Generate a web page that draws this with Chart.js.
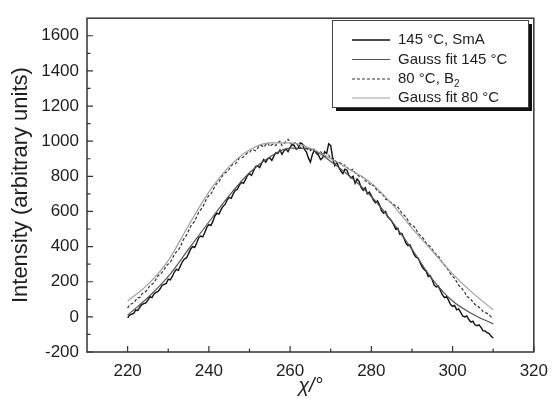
<!DOCTYPE html>
<html><head><meta charset="utf-8">
<script src="https://cdn.jsdelivr.net/npm/chart.js@4/dist/chart.umd.min.js"></script>
<style>html,body{margin:0;padding:0;background:#fff}</style>
</head><body>
<canvas id="c" width="557" height="401"></canvas>
<script>
// ---- data ----
const chi = [220,220.5,221,221.5,222,222.5,223,223.5,224,224.5,225,225.5,226,226.5,227,227.5,228,228.5,229,229.5,
  230,230.5,231,231.5,232,232.5,233,233.5,234,234.5,235,235.5,236,236.5,237,237.5,238,238.5,239,239.5,
  240,240.5,241,241.5,242,242.5,243,243.5,244,244.5,245,245.5,246,246.5,247,247.5,248,248.5,249,249.5,
  250,250.5,251,251.5,252,252.5,253,253.5,254,254.5,255,255.5,256,256.5,257,257.5,258,258.5,259,259.5,
  260,260.5,261,261.5,262,262.5,263,263.5,264,264.5,265,265.5,266,266.5,267,267.5,268,268.5,269,269.5,
  270,270.5,271,271.5,272,272.5,273,273.5,274,274.5,275,275.5,276,276.5,277,277.5,278,278.5,279,279.5,
  280,280.5,281,281.5,282,282.5,283,283.5,284,284.5,285,285.5,286,286.5,287,287.5,288,288.5,289,289.5,
  290,290.5,291,291.5,292,292.5,293,293.5,294,294.5,295,295.5,296,296.5,297,297.5,298,298.5,299,299.5,
  300,300.5,301,301.5,302,302.5,303,303.5,304,304.5,305,305.5,306,306.5,307,307.5,308,308.5,309,309.5,310];
const smA145 = [-5,10,15,20,40,35,55,70,75,80,95,115,110,130,140,145,160,180,185,190,
  215,210,230,255,270,265,290,315,330,335,360,385,400,395,420,450,460,455,480,510,
  525,520,545,575,590,585,610,630,640,665,680,675,700,720,725,750,765,760,780,805,
  815,805,830,855,860,850,875,895,880,900,905,890,915,935,930,950,925,945,955,940,
  965,980,975,955,960,990,985,955,940,905,880,925,950,930,920,895,905,940,930,985,
  975,900,860,880,850,830,815,840,835,805,790,800,760,785,770,735,720,735,700,710,
  690,665,650,660,640,605,590,600,570,560,545,525,500,505,470,475,450,420,405,410,
  385,355,340,335,310,285,270,260,230,235,210,180,170,175,150,125,110,115,95,70,
  60,65,40,45,25,5,0,5,-15,-30,-25,-45,-50,-45,-60,-80,-80,-90,-95,-110,-120];
const b2_80 = [50,70,75,80,95,110,110,130,140,145,160,180,185,195,215,235,240,255,270,290,
  300,310,330,355,370,380,400,430,450,465,490,515,530,545,570,595,610,625,650,675,
  690,700,720,745,760,770,790,810,820,825,840,860,870,870,885,905,905,910,920,935,
  935,950,950,945,960,975,975,965,980,990,970,980,985,975,990,1000,975,985,1000,1010,
  995,975,985,995,970,960,980,975,960,950,945,960,950,935,930,940,925,915,915,920,
  900,905,890,880,880,875,860,865,850,840,835,840,820,810,800,805,790,775,770,760,
  745,750,735,715,710,705,690,670,665,655,650,640,630,625,610,590,580,570,550,530,
  520,515,500,475,465,455,440,420,410,400,385,365,355,345,330,305,295,280,265,245,
  230,220,200,180,170,155,140,115,110,100,85,70,65,55,45,30,25,20,10,0,-10];
const fitChi = [220,225,230,235,240,245,250,255,260,265,270,275,280,285,290,295,300,305,310];
const fit145 = [10,110,230,385,540,690,820,910,960,955,885,795,685,545,385,215,90,15,-40];
const fit80  = [90,185,320,520,710,855,950,990,990,960,900,835,760,645,505,375,245,135,40];
const xTicks = [220,240,260,280,300,320];
const xMinor = [230,250,270,290,310];
const yTicks = [-200,0,200,400,600,800,1000,1200,1400,1600];
const yMinor = [-100,100,300,500,700,900,1100,1300,1500];
const labels = ['145 °C, SmA','Gauss fit 145 °C','80 °C, B₂','Gauss fit 80 °C'];

const pts = (xs, ys) => xs.map((x,i)=>({x:x,y:ys[i]}));
const FONT = '"Liberation Sans", Arial, sans-serif';
const INK = '#1e1e1e';

const deco = {
  id:'deco',
  afterDraw(chart){
    const ctx = chart.ctx, a = chart.chartArea;
    const xs = chart.scales.x, ys = chart.scales.y;
    ctx.save();
    ctx.strokeStyle = '#333'; ctx.lineWidth = 1.5;
    ctx.strokeRect(a.left, a.top, a.right-a.left, a.bottom-a.top);
    ctx.lineWidth = 1.2;
    ctx.beginPath();
    const tickX = (v,len)=>{const p=xs.getPixelForValue(v); ctx.moveTo(p,a.bottom); ctx.lineTo(p,a.bottom-len);};
    const tickY = (v,len)=>{const p=ys.getPixelForValue(v); ctx.moveTo(a.left,p); ctx.lineTo(a.left+len,p);};
    xTicks.forEach(v=>tickX(v,6)); xMinor.forEach(v=>tickX(v,3.5));
    yTicks.forEach(v=>tickY(v,6)); yMinor.forEach(v=>tickY(v,3.5));
    ctx.stroke();
    // legend box with shadow
    const bx=332, by=20, bw=196, bh=87;
    ctx.fillStyle='#111'; ctx.fillRect(bx+4,by+4,bw,bh);
    ctx.fillStyle='#fff'; ctx.fillRect(bx,by,bw,bh);
    ctx.strokeStyle='#444'; ctx.lineWidth=1; ctx.strokeRect(bx+0.5,by+0.5,bw,bh);
    const rows=[40,59.5,79,98];
    ctx.font = '15px '+FONT; ctx.textBaseline='middle'; ctx.fillStyle=INK;
    labels.forEach((t,i)=>{
      const ds = chart.data.datasets.find(d=>d.label===t);
      ctx.strokeStyle = ds.borderColor; ctx.lineWidth = ds.legendWidth;
      ctx.setLineDash(ds.borderDash||[]);
      ctx.beginPath(); ctx.moveTo(352,rows[i]); ctx.lineTo(390,rows[i]); ctx.stroke();
      ctx.setLineDash([]);
      if (t.endsWith('₂')) {
        const base = t.slice(0,-1);
        ctx.fillText(base,398,rows[i]);
        const w = ctx.measureText(base).width;
        ctx.font='10px '+FONT; ctx.fillText('2',398+w,rows[i]+5);
        ctx.font='15px '+FONT;
      } else ctx.fillText(t,398,rows[i]);
    });
    ctx.restore();
  }
};

new Chart(document.getElementById('c'), {
  type:'line',
  data:{datasets:[
    {label:labels[3], data:pts(fitChi,fit80), borderColor:'#a0a0a0', borderWidth:1.2, legendWidth:1.2, tension:0.4, cubicInterpolationMode:'monotone', pointRadius:0},
    {label:labels[2], data:pts(chi,b2_80), borderColor:'#333', borderWidth:1.2, legendWidth:1.2, borderDash:[3,2], pointRadius:0, tension:0},
    {label:labels[1], data:pts(fitChi,fit145), borderColor:'#555', borderWidth:1.2, legendWidth:1.2, tension:0.4, cubicInterpolationMode:'monotone', pointRadius:0},
    {label:labels[0], data:pts(chi,smA145), borderColor:'#111', borderWidth:1.4, legendWidth:1.5, pointRadius:0, tension:0}
  ]},
  options:{
    responsive:false, animation:false, devicePixelRatio:1,
    layout:{padding:{top:13,right:16,left:0,bottom:0}},
    plugins:{legend:{display:false}, tooltip:{enabled:false}},
    scales:{
      x:{type:'linear', min:210, max:320,
        afterBuildTicks:s=>{s.ticks = xTicks.map(v=>({value:v}));},
        afterFit:s=>{s.height=49;},
        grid:{display:false, drawTicks:false}, border:{display:false},
        ticks:{padding:9, color:INK, font:{family:FONT,size:17}, maxRotation:0, callback:v=>String(v)},
        title:{display:true, text:'χ/°', color:INK, font:{family:FONT,size:20,style:'italic'}, padding:{top:0,bottom:3}}
      },
      y:{type:'linear', min:-200, max:1700,
        afterBuildTicks:s=>{s.ticks = yTicks.map(v=>({value:v}));},
        afterFit:s=>{s.width=87;},
        grid:{display:false, drawTicks:false}, border:{display:false},
        ticks:{padding:8, color:INK, font:{family:FONT,size:17}, callback:v=>String(v)},
        title:{display:true, text:'Intensity (arbitrary units)', color:INK, font:{family:FONT,size:22}, padding:{top:8,bottom:0}}
      }
    }
  },
  plugins:[deco]
});
</script>
</body></html>
